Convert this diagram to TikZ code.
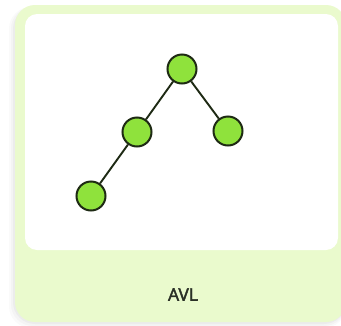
\documentclass[tikz,border=0pt]{standalone}
\usepackage{fontspec}
\setmainfont{Open Sans}[FakeBold=2.5]
\definecolor{cardgreen}{HTML}{EAFACD}
\definecolor{leafgreen}{HTML}{8FE23C}
\definecolor{leafedge}{HTML}{1E2A14}
\definecolor{labelgray}{HTML}{2A3026}
\tikzset{
  treenode/.style={circle, draw=leafedge, line width=2pt, fill=leafgreen, minimum size=29pt, inner sep=0pt},
  treeedge/.style={draw=leafedge, line width=1.9pt},
}
\begin{document}
\begin{tikzpicture}[x=1pt,y=-1pt]
  \useasboundingbox (0,0) rectangle (341,325);
  \fill[white] (0,0) rectangle (341,325);
  % soft shadow under the card
  \foreach \d/\o in {6/0.03,4/0.04,2/0.05}{
    \fill[black!60, opacity=\o, rounded corners=22pt] (15-\d,5+2) rectangle (346,322+\d);
  }
  % card and picture panel
  \fill[cardgreen, rounded corners=20pt] (15,5) rectangle (346,322);
  \fill[white, rounded corners=12pt] (25,14) rectangle (338,250);
  % AVL tree
  \node[treenode] (root) at (182,69) {};
  \node[treenode] (left) at (137,132) {};
  \node[treenode] (right) at (228,131) {};
  \node[treenode] (leftleft) at (91,196) {};
  \draw[treeedge] (root) -- (left);
  \draw[treeedge] (root) -- (right);
  \draw[treeedge] (left) -- (leftleft);
  \node[text=labelgray, font=\fontsize{17.5}{20}\selectfont] (label) at (183,294.5) {AVL};
\end{tikzpicture}
\end{document}
